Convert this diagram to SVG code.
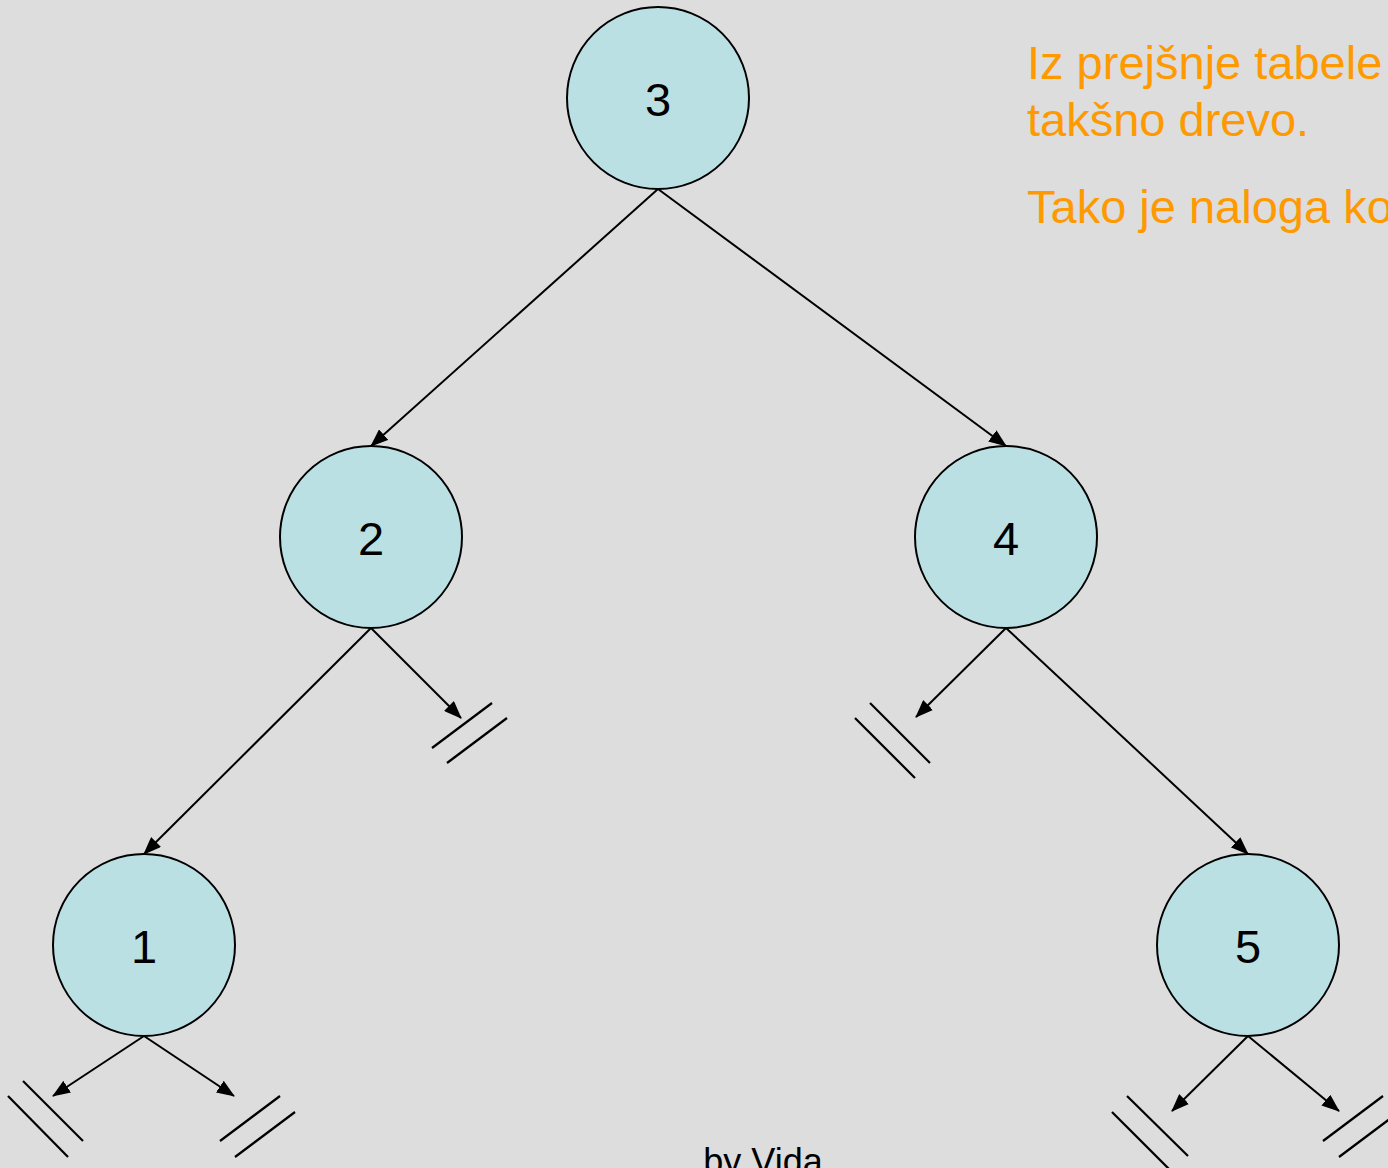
<svg xmlns="http://www.w3.org/2000/svg" width="1388" height="1168" viewBox="0 0 1388 1168">
  <style>
    .node circle { fill: #BBE0E3; stroke: #000; stroke-width: 2; }
    .node text { font-family: "Liberation Sans", Arial, sans-serif; font-size: 47px; fill: #000; text-anchor: middle; }
    .edge { stroke: #000; stroke-width: 2; fill: none; marker-end: url(#arrow); }
    .ground { stroke: #000; stroke-width: 2.2; fill: none; }
    .note { font-family: "Liberation Sans", Arial, sans-serif; font-size: 47px; fill: #FF9900; }
    .sign { font-family: "Liberation Sans", Arial, sans-serif; font-size: 36px; fill: #000; }
  </style>
  <defs>
    <marker id="arrow" markerUnits="userSpaceOnUse" markerWidth="18" markerHeight="14" refX="17" refY="7" orient="auto">
      <path d="M0,0 L18,7 L0,14 Z" fill="#000"/>
    </marker>
  </defs>

  <rect width="1388" height="1168" fill="#DDDDDD"/>

  <!-- connectors -->
  <g id="connectors">
    <line class="edge" x1="658" y1="189" x2="371" y2="446"/>
    <line class="edge" x1="658" y1="189" x2="1006" y2="446"/>
    <line class="edge" x1="371" y1="628" x2="144" y2="854"/>
    <line class="edge" x1="371" y1="628" x2="461" y2="718"/>
    <line class="edge" x1="1006" y1="628" x2="916" y2="717"/>
    <line class="edge" x1="1006" y1="628" x2="1248" y2="854"/>
    <line class="edge" x1="144" y1="1036" x2="53" y2="1096"/>
    <line class="edge" x1="144" y1="1036" x2="234" y2="1096"/>
    <line class="edge" x1="1248" y1="1036" x2="1172" y2="1111"/>
    <line class="edge" x1="1248" y1="1036" x2="1339" y2="1111"/>

    <!-- null-child markers -->
    <line class="ground" x1="432" y1="748" x2="492" y2="703"/>
    <line class="ground" x1="447" y1="763" x2="507" y2="718"/>
    <line class="ground" x1="870" y1="703" x2="930" y2="763"/>
    <line class="ground" x1="855" y1="718" x2="915" y2="778"/>
    <line class="ground" x1="8" y1="1096" x2="68" y2="1157"/>
    <line class="ground" x1="23" y1="1081" x2="83" y2="1141"/>
    <line class="ground" x1="220" y1="1141" x2="280" y2="1096"/>
    <line class="ground" x1="235" y1="1157" x2="295" y2="1112"/>
    <line class="ground" x1="1127" y1="1096" x2="1188" y2="1156"/>
    <line class="ground" x1="1112" y1="1112" x2="1172" y2="1172"/>
    <line class="ground" x1="1323" y1="1141" x2="1383" y2="1096"/>
    <line class="ground" x1="1339" y1="1157" x2="1399" y2="1112"/>
  </g>

  <g id="node-3" class="node">
    <circle cx="658" cy="98" r="91"/>
    <text x="658" y="116">3</text>
  </g>
  <g id="node-2" class="node">
    <circle cx="371" cy="537" r="91"/>
    <text x="371" y="555">2</text>
  </g>
  <g id="node-4" class="node">
    <circle cx="1006" cy="537" r="91"/>
    <text x="1006" y="555">4</text>
  </g>
  <g id="node-1" class="node">
    <circle cx="144" cy="945" r="91"/>
    <text x="144" y="963">1</text>
  </g>
  <g id="node-5" class="node">
    <circle cx="1248" cy="945" r="91"/>
    <text x="1248" y="963">5</text>
  </g>

  <g id="note">
    <text class="note" x="1027" y="79">Iz prejšnje tabele</text>
    <text class="note" x="1027" y="136">takšno drevo.</text>
    <text class="note" x="1027" y="223">Tako je naloga ko</text>
  </g>

  <text class="sign" x="763" y="1174" text-anchor="middle">by Vida</text>
</svg>
